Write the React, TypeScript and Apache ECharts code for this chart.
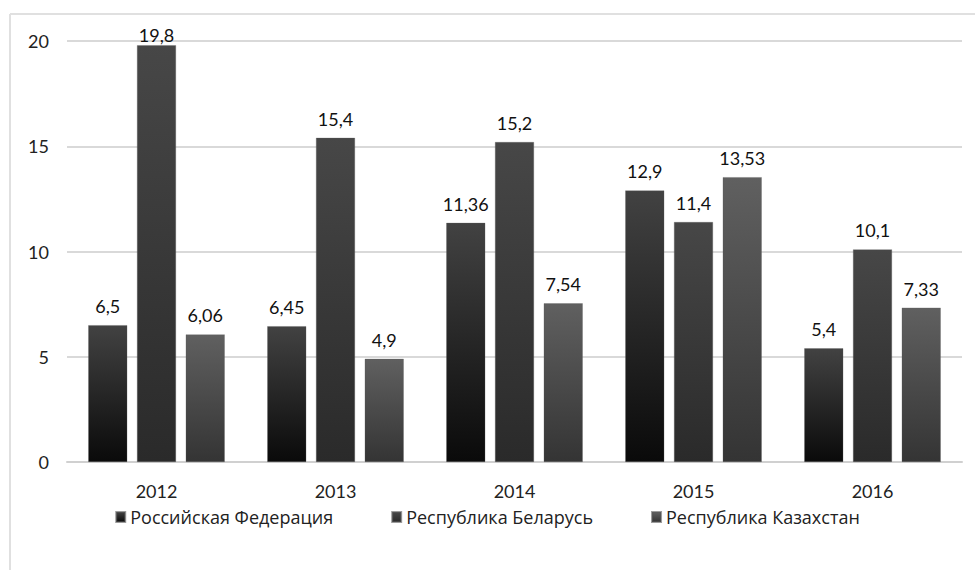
import React, { useEffect, useRef } from "react";
import * as echarts from "echarts";

const years = ["2012", "2013", "2014", "2015", "2016"];
const russia = [6.5, 6.45, 11.36, 12.9, 5.4];
const belarus = [19.8, 15.4, 15.2, 11.4, 10.1];
const kazakhstan = [6.06, 4.9, 7.54, 13.53, 7.33];
const seriesNames = ["Российская Федерация", "Республика Беларусь", "Республика Казахстан"];
const yTicks = { min: 0, max: 20, interval: 5 };

const FONT = "Lato, 'Open Sans', 'Noto Sans', sans-serif";
const LEGEND_FONT = "'Open Sans', Lato, 'Noto Sans', sans-serif";

const grad = (top: string, bottom: string) =>
  new echarts.graphic.LinearGradient(0, 0, 0, 1, [
    { offset: 0, color: top },
    { offset: 1, color: bottom },
  ]);

export default function App() {
  const ref = useRef<HTMLDivElement>(null);
  useEffect(() => {
    if (!ref.current) return;
    const chart = echarts.init(ref.current, null, { renderer: "svg" });
    const fmt = (p: any) => String(p.value).replace(".", ",");
    const mk = (name: string, data: number[], top: string, bottom: string) => ({
      name,
      type: "bar",
      // values near the top of the axis get their label tucked closer, as in the source
      data: data.map((v) => (v > 19 ? { value: v, label: { distance: 1 } } : v)),
      barWidth: 39,
      barGap: "25%",
      itemStyle: { color: grad(top, bottom), borderColor: "rgba(90,90,90,0.6)", borderWidth: 0.5 },
      label: {
        show: true,
        position: "top",
        distance: 10,
        formatter: fmt,
        fontFamily: FONT,
        fontSize: 18,
        color: "#111",
      },
    });
    chart.setOption({
      animation: false,
      backgroundColor: "#fff",
      textStyle: { fontFamily: FONT },
      graphic: [
        { type: "line", shape: { x1: 10, y1: 14, x2: 975, y2: 14 }, style: { stroke: "#e0e0e0", lineWidth: 2 } },
        { type: "line", shape: { x1: 10, y1: 14, x2: 10, y2: 570 }, style: { stroke: "#e0e0e0", lineWidth: 2 } },
      ],
      grid: { left: 67, right: 13, top: 41, bottom: 108 },
      legend: {
        top: 503,
        left: "center",
        itemWidth: 9,
        itemHeight: 10,
        itemGap: 58,
        icon: "rect",
        textStyle: { fontFamily: LEGEND_FONT, fontSize: 18, color: "#222" },
        data: seriesNames,
      },
      xAxis: {
        type: "category",
        data: years,
        axisLine: { lineStyle: { color: "#d0d0d0", width: 2 } },
        axisTick: { show: false },
        axisLabel: { fontFamily: FONT, fontSize: 18, color: "#222", margin: 20 },
      },
      yAxis: {
        type: "value",
        min: yTicks.min,
        max: yTicks.max,
        interval: yTicks.interval,
        axisLine: { show: false },
        axisTick: { show: false },
        axisLabel: { fontFamily: FONT, fontSize: 18, color: "#222", margin: 18 },
        splitLine: { lineStyle: { color: "#d9d9d9", width: 2 } },
      },
      series: [
        mk(seriesNames[0], russia, "#424242", "#0a0a0a"),
        mk(seriesNames[1], belarus, "#474747", "#2a2a2a"),
        mk(seriesNames[2], kazakhstan, "#606060", "#343434"),
      ],
    });
    return () => chart.dispose();
  }, []);
  return (
    <div
      ref={ref}
      style={{ position: "fixed", left: 0, top: 0, width: 975, height: 570 }}
    />
  );
}
